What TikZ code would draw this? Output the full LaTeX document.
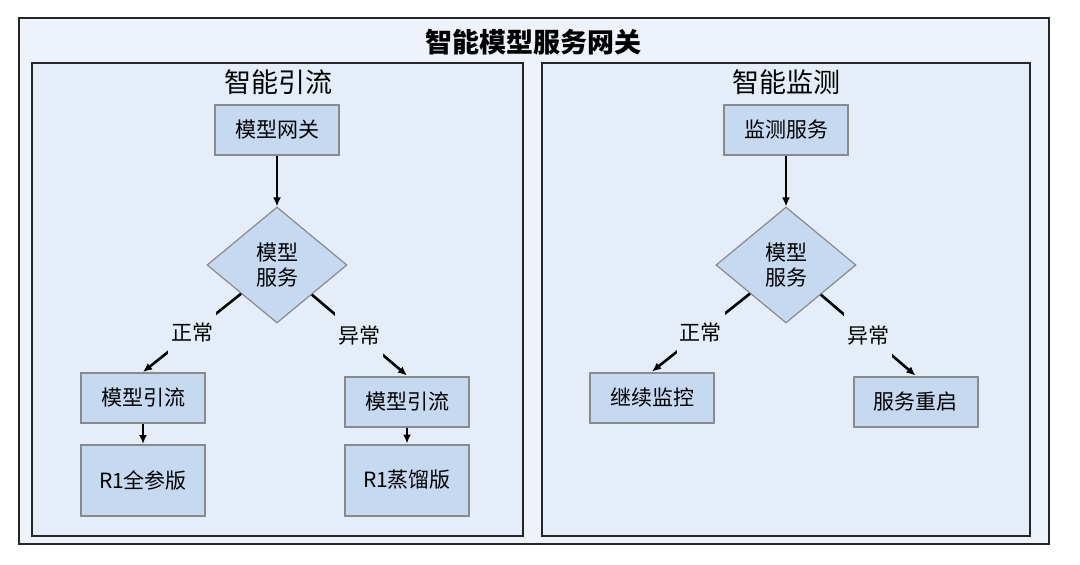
\documentclass[tikz,border=0pt]{standalone}
\usepackage{fontspec}
\newfontfamily\cjk{Noto Sans CJK SC}
\usetikzlibrary{shapes.geometric,arrows.meta}
\definecolor{outerbg}{HTML}{EEF3FB}
\definecolor{panelbg}{HTML}{E4EDF8}
\definecolor{boxfill}{HTML}{C5D9F1}
\definecolor{boxline}{HTML}{8A8A8A}

\begin{document}
\begin{tikzpicture}[x=1pt, y=-1pt,
    every node/.style={font=\cjk\fontsize{21}{25}\selectfont},
    box/.style={draw=boxline, line width=2pt, fill=boxfill, minimum width=124pt, minimum height=50pt, inner sep=0pt},
    tallbox/.style={box, minimum height=71pt},
    decision/.style={diamond, draw=boxline, line width=1.2pt, fill=boxfill, minimum width=140pt, minimum height=116pt, inner sep=0pt, align=center},
    lbl/.style={fill=panelbg, inner xsep=3pt, inner ysep=14pt},
    arr/.style={-{Latex[length=9pt,width=8pt]}, line width=2.6pt}]
            \useasboundingbox (0, 0) rectangle (1080, 565);
            % frames
            \draw[fill=outerbg, line width=2.6pt, draw=black!85] (19, 18) rectangle (1049, 544);
            \draw[fill=panelbg, line width=2pt, draw=black!85] (32, 63) rectangle (523, 536);
            \draw[fill=panelbg, line width=2pt, draw=black!85] (542, 63) rectangle (1030, 536);
            \node (title) at (533, 42) [font=\cjk\bfseries\fontsize{27}{30}\selectfont] {智能模型服务网关};
            % 智能引流
            \node (routetitle) at (278, 82) [font=\cjk\fontsize{27}{30}\selectfont] {智能引流};
            \node (gw) at (277, 130) [box] {模型网关};
            \node (svc) at (277, 265) [decision] {模型\\服务};
            \node (flow1) at (143, 398) [box] {模型引流};
            \node (full) at (143, 480.5) [tallbox] {R1全参版};
            \node (flow2) at (407, 401.5) [box] {模型引流};
            \node (distill) at (407, 480) [tallbox] {R1蒸馏版};
            \draw[arr] (gw) -- (svc);
            \draw[arr] (svc) -- node[lbl] {正常} (flow1.north);
            \draw[arr] (svc) -- node[lbl] {异常} (flow2.north);
            \draw[arr] (flow1) -- (full);
            \draw[arr] (flow2) -- (distill);
            % 智能监测
            \node (montitle) at (786, 82) [font=\cjk\fontsize{27}{30}\selectfont] {智能监测};
            \node (mon) at (786, 130) [box] {监测服务};
            \node (check) at (786, 265) [decision] {模型\\服务};
            \node (keep) at (652, 397.5) [box] {继续监控};
            \node (restart) at (915.5, 401.5) [box] {服务重启};
            \draw[arr] (mon) -- (check);
            \draw[arr] (check) -- node[lbl] {正常} (keep.north);
            \draw[arr] (check) -- node[lbl] {异常} (restart.north);
        \end{tikzpicture}
\end{document}
